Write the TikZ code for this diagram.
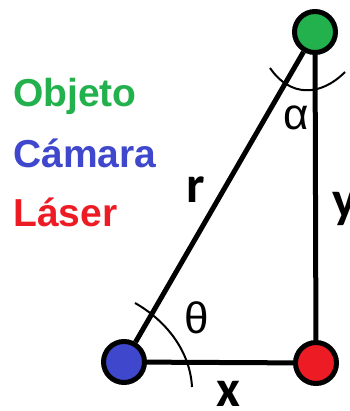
\documentclass[tikz,border=0pt]{standalone}
\usepackage{fontspec}
\setmainfont{Liberation Sans}
\newfontfamily\labfont{Carlito}
\definecolor{objgreen}{HTML}{22B14C}
\definecolor{camblue}{HTML}{3F48CC}
\definecolor{lasred}{HTML}{ED1C24}
\begin{document}
\begin{tikzpicture}[x=1pt,y=-1pt,
  pt/.style={circle,draw=black,line width=5pt,minimum size=41pt,inner sep=0pt},
  edge/.style={line width=5pt},
  anglearc/.style={line width=2pt},
  legend/.style={anchor=base west,inner sep=0pt,font=\fontsize{39}{39}\selectfont\bfseries},
  lab/.style={anchor=base,inner sep=0pt,font=\labfont\fontsize{52}{52}\selectfont\bfseries},
  greek/.style={inner sep=0pt,font=\fontsize{44}{44}\selectfont}]
\useasboundingbox (0,0) rectangle (349,411);
\node[pt,fill=objgreen] (obj) at (315,32) {};
\node[pt,fill=camblue] (cam) at (124,362) {};
\node[pt,fill=lasred] (las) at (316,363) {};
\draw[edge] (cam) -- (obj);
\draw[edge] (obj) -- (las);
\draw[edge] (cam) -- (las);
\coordinate (a1) at (270,68);
\coordinate (a2) at (345,72);
\draw[anglearc] (a1) .. controls (290,97) and (320,97) .. (a2);
\coordinate (t1) at (135,303);
\coordinate (t2) at (192,387);
\draw[anglearc] (t1) .. controls (165,320) and (190,350) .. (t2);
\node[greek] (alpha) at (296,118) {α};
\node[greek] (theta) at (197,318) {θ};
\node[lab] (r) at (196,203) {r};
\node[lab] (x) at (228,406) {x};
\node[lab,anchor=base west] (y) at (332,217) {y};
\node[legend,text=objgreen] (lo) at (13,107) {Objeto};
\node[legend,text=camblue] (lc) at (13,168) {Cámara};
\node[legend,text=lasred] (ll) at (13,226) {Láser};
\end{tikzpicture}
\end{document}
